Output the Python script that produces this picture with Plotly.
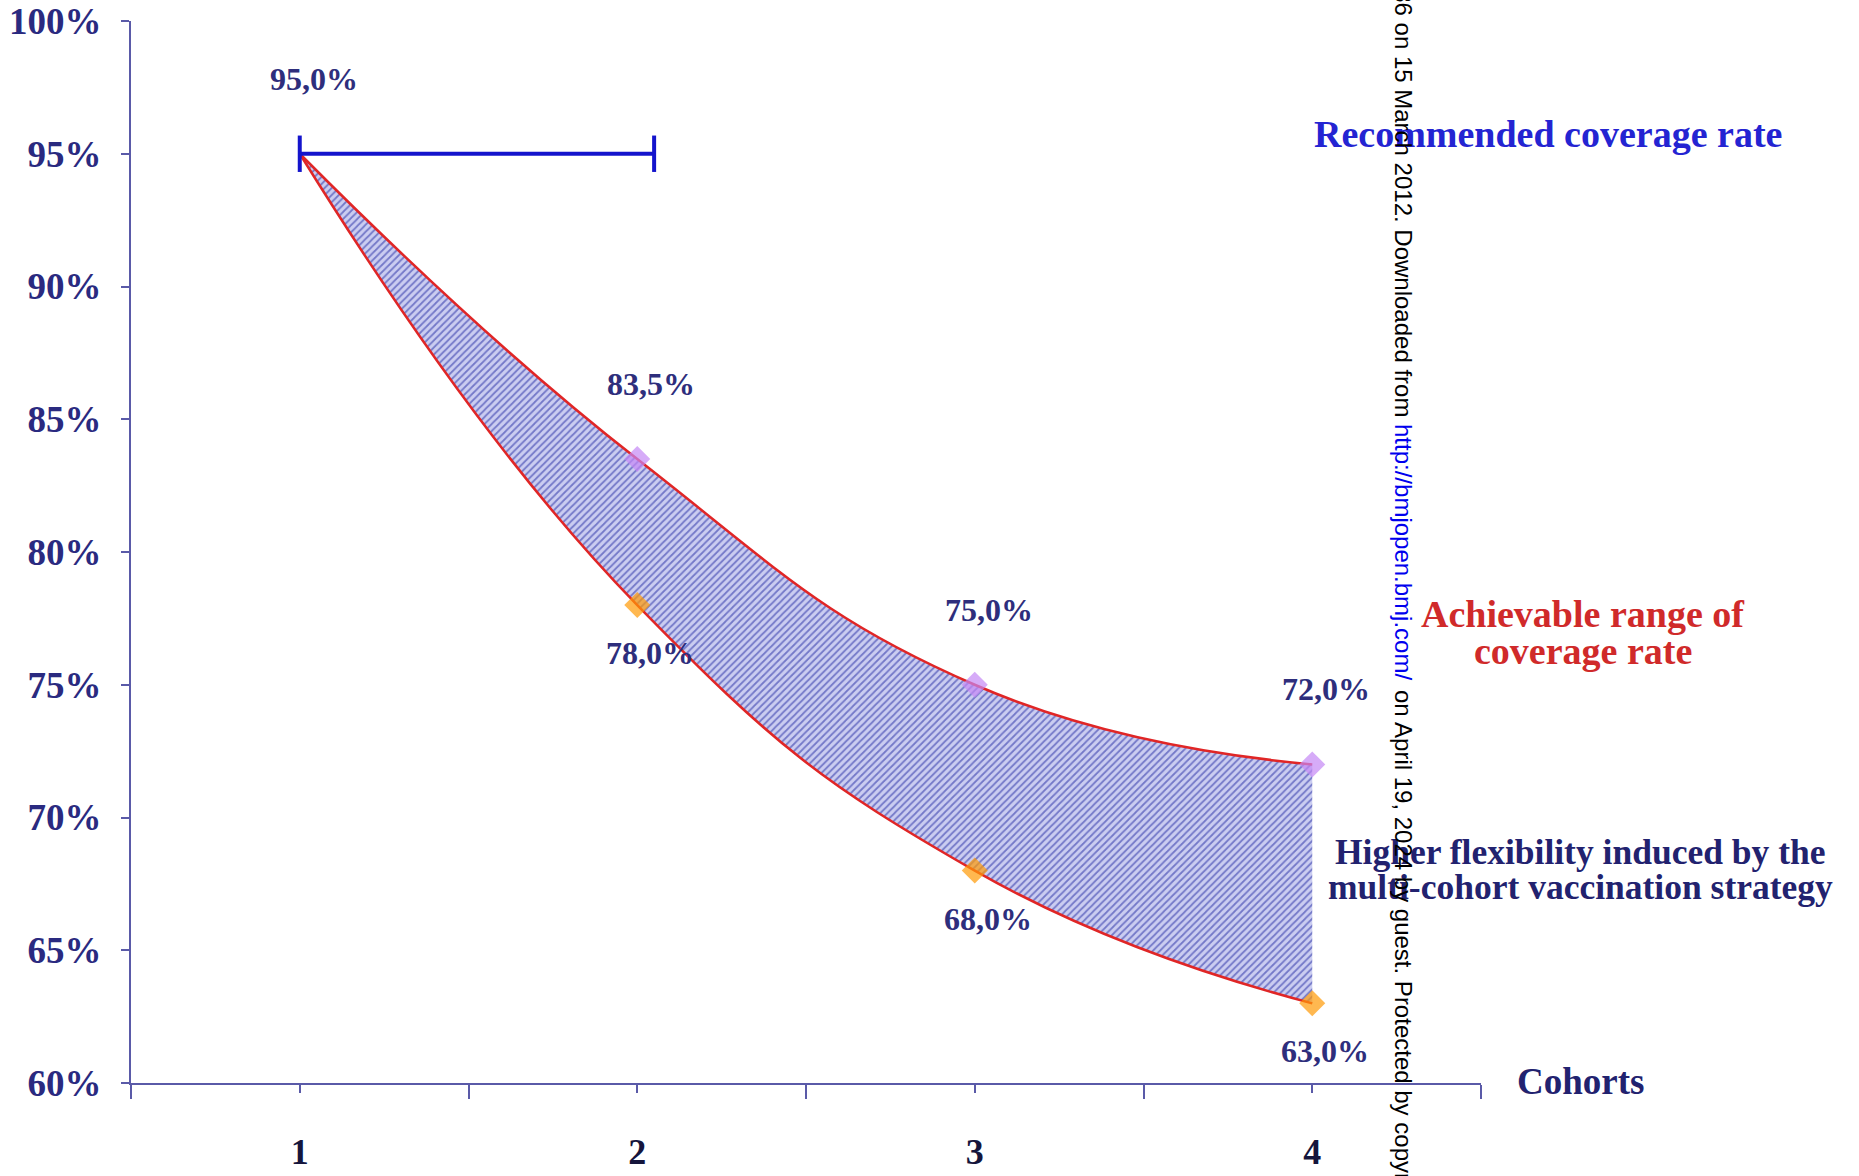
import plotly.graph_objects as go

# ---------------- data ----------------
cohorts = [1, 2, 3, 4]
upper_rate = [95.0, 83.5, 75.0, 72.0]
lower_rate = [95.0, 78.0, 68.0, 63.0]
upper_labels = ["95,0%", "83,5%", "75,0%", "72,0%"]
lower_labels = ["", "78,0%", "68,0%", "63,0%"]
recommended_x = [1, 2.05]
recommended_y = [95.0, 95.0]
y_ticks = [60, 65, 70, 75, 80, 85, 90, 95, 100]
y_ticktext = ["60%", "65%", "70%", "75%", "80%", "85%", "90%", "95%", "100%"]
x_ticktext = ["1", "2", "3", "4"]

# ---------------- geometry helpers ----------------
W, H = 1859, 1176
ML, MR, MT, MB = 131, 378, 21, 93
PW, PH = W - ML - MR, H - MT - MB
XMIN, XMAX, YMIN, YMAX = 0.5, 4.5, 60, 100


def px(xp):
    return (xp - ML) / PW


def py(yp):
    return (H - MB - yp) / PH


def dx(xp):
    return XMIN + px(xp) * (XMAX - XMIN)


def dy(yp):
    return YMIN + py(yp) * (YMAX - YMIN)


SERIF = "Liberation Serif"
AXIS = "#5a5aa8"
RED = "#e02626"

fig = go.Figure()

# lower bound curve
fig.add_trace(go.Scatter(
    x=cohorts, y=lower_rate, mode="lines+markers",
    line=dict(color=RED, width=2.5, shape="spline", smoothing=1.3),
    marker=dict(symbol="diamond", color="#ff9a05", size=[0, 20, 20, 20],
                line=dict(width=0)),
    hoverinfo="skip", showlegend=False,
))
# upper bound curve with hatched fill between
fig.add_trace(go.Scatter(
    x=cohorts, y=upper_rate, mode="lines+markers",
    line=dict(color=RED, width=2.5, shape="spline", smoothing=1.3),
    fill="tonexty",
    fillcolor="#a9acdf",
    fillpattern=dict(shape="/", size=5, solidity=0.35,
                     fgcolor="#7378c8", bgcolor="#cbcdf1", fillmode="replace"),
    marker=dict(symbol="diamond", color="#c488f5", size=[0, 20, 20, 20],
                line=dict(width=0)),
    hoverinfo="skip", showlegend=False,
))
# recommended coverage line
fig.add_trace(go.Scatter(
    x=recommended_x, y=recommended_y, mode="lines+markers",
    line=dict(color="#1414cc", width=4),
    marker=dict(symbol="line-ns", size=26, line=dict(color="#1414cc", width=4)),
    hoverinfo="skip", showlegend=False,
))

annotations = []
for xv, yv, t in zip(cohorts, upper_rate, upper_labels):
    annotations.append(dict(x=xv, y=yv, xref="x", yref="y", text=t, showarrow=False,
                            xshift=14, yshift=75,
                            font=dict(family=SERIF, size=32, color="#2e2e7c", weight="bold")))
for xv, yv, t in zip(cohorts, lower_rate, lower_labels):
    if t:
        annotations.append(dict(x=xv, y=yv, xref="x", yref="y", text=t, showarrow=False,
                                xshift=13, yshift=-48,
                                font=dict(family=SERIF, size=32, color="#2e2e7c", weight="bold")))


def txt(text, xc, yc, size, color):
    annotations.append(dict(x=px(xc), y=py(yc), xref="paper", yref="paper", text=text,
                            showarrow=False, xanchor="center", yanchor="middle",
                            font=dict(family=SERIF, size=size, color=color, weight="bold")))


txt("Recommended coverage rate", 1548, 134, 38, "#2424d2")
txt("Achievable range of", 1583, 614, 38, "#d02a2a")
txt("coverage rate", 1583, 651, 38, "#d02a2a")
txt("Higher flexibility induced by the", 1580, 852, 35.5, "#22226f")
txt("multi-cohort vaccination strategy", 1580, 887, 35.5, "#22226f")
txt("Cohorts", 1580, 1081, 37, "#22226f")

# vertical watermark (axis-referenced so it does not push the margins)
WM_X = 1404
wm_font = dict(family="Liberation Sans", size=24, color="#000000")
annotations.append(dict(x=dx(WM_X), y=dy(418), xref="x", yref="y",
                        text="BMJ Open: first published as 10.1136/bmjopen-2011-000236 on 15 March 2012. Downloaded from",
                        textangle=90, showarrow=False, xanchor="center", yanchor="bottom",
                        borderpad=0, font=wm_font))
annotations.append(dict(x=dx(WM_X), y=dy(423), xref="x", yref="y",
                        text="http://bmjopen.bmj.com/",
                        textangle=90, showarrow=False, xanchor="center", yanchor="top",
                        borderpad=0, font=dict(family="Liberation Sans", size=24, color="#0000ee")))
annotations.append(dict(x=dx(WM_X), y=dy(689), xref="x", yref="y",
                        text="on April 19, 2024 by guest. Protected by copyright.",
                        textangle=90, showarrow=False, xanchor="center", yanchor="top",
                        borderpad=0, font=wm_font))

fig.update_layout(
    width=W, height=H,
    margin=dict(l=ML, r=MR, t=MT, b=MB, pad=0, autoexpand=False),
    paper_bgcolor="white", plot_bgcolor="white",
    annotations=annotations,
    xaxis=dict(range=[XMIN, XMAX], showgrid=False, zeroline=False, automargin=False,
               showline=True, linecolor=AXIS, linewidth=2,
               tickvals=cohorts, ticktext=x_ticktext,
               ticks="outside", ticklen=8, tickwidth=2, tickcolor=AXIS,
               minor=dict(tick0=0.5, dtick=1, ticks="outside", ticklen=14,
                          tickwidth=2, tickcolor=AXIS, showgrid=False),
               ticklabelstandoff=28,
               tickfont=dict(family=SERIF, size=36, color="#15153c", weight="bold")),
    yaxis=dict(range=[YMIN, YMAX], showgrid=False, zeroline=False, automargin=False,
               showline=True, linecolor=AXIS, linewidth=2,
               tickvals=y_ticks, ticktext=y_ticktext,
               ticks="outside", ticklen=8, tickwidth=2, tickcolor=AXIS,
               ticklabelstandoff=12,
               tickfont=dict(family=SERIF, size=37, color="#2a2a80", weight="bold")),
)

fig.write_html("out.html")
